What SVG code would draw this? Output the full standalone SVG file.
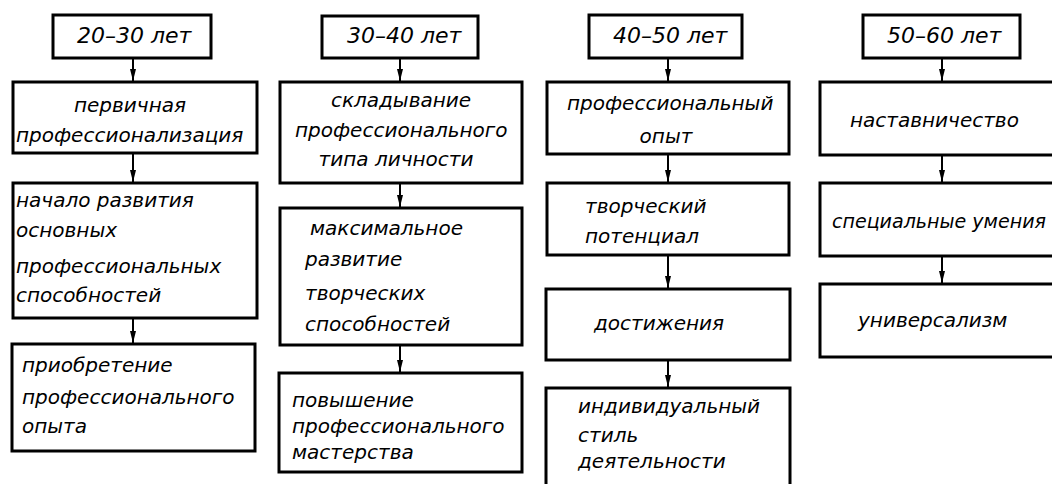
<svg xmlns="http://www.w3.org/2000/svg" width="1052" height="484" viewBox="0 0 1052 484">
<style>
.b{fill:#fff;stroke:#000;stroke-width:3}
.t{font-family:"DejaVu Sans","Liberation Sans",sans-serif;font-style:italic;font-size:20px;fill:#000}
.h{font-size:22px}
.m{text-anchor:middle}
.c{stroke:#000;stroke-width:2;fill:none}
</style>
<defs>
<marker id="ah" viewBox="0 0 12 6" refX="12" refY="3" markerWidth="12" markerHeight="6" markerUnits="userSpaceOnUse" orient="auto">
<path d="M0,0 L12,3 L0,6 z" fill="#000"/>
</marker>
</defs>
<rect width="1052" height="484" fill="#fff"/>
<g id="connectors">
<path class="c" marker-end="url(#ah)" d="M133,58 V81"/>
<path class="c" marker-end="url(#ah)" d="M133,153 V182"/>
<path class="c" marker-end="url(#ah)" d="M133,318 V343"/>
<path class="c" marker-end="url(#ah)" d="M400,58 V81"/>
<path class="c" marker-end="url(#ah)" d="M400,183 V207"/>
<path class="c" marker-end="url(#ah)" d="M400,345 V372"/>
<path class="c" marker-end="url(#ah)" d="M668,58 V81"/>
<path class="c" marker-end="url(#ah)" d="M668,154 V182"/>
<path class="c" marker-end="url(#ah)" d="M668,255 V288"/>
<path class="c" marker-end="url(#ah)" d="M668,360 V387"/>
<path class="c" marker-end="url(#ah)" d="M942,58 V81"/>
<path class="c" marker-end="url(#ah)" d="M942,155 V182"/>
<path class="c" marker-end="url(#ah)" d="M942,256 V283"/>
</g>
<g id="c1h"><rect class="b" x="53" y="15" width="158" height="43"/><text class="t h" x="77" y="43">20–30 лет</text></g>
<g id="c1n1"><rect class="b" x="13" y="82" width="244" height="71"/><text class="t m" x="130" y="112">первичная</text><text class="t" x="16" y="142">профессионализация</text></g>
<g id="c1n2"><rect class="b" x="13" y="183" width="244" height="135"/><text class="t" x="16" y="207">начало развития</text><text class="t" x="16" y="237">основных</text><text class="t" x="16" y="273">профессиональных</text><text class="t" x="16" y="302">способностей</text></g>
<g id="c1n3"><rect class="b" x="12" y="344" width="243" height="107"/><text class="t" x="22" y="372">приобретение</text><text class="t" x="22" y="404">профессионального</text><text class="t" x="22" y="433">опыта</text></g>
<g id="c2h"><rect class="b" x="322" y="16" width="156" height="42"/><text class="t h" x="347" y="43">30–40 лет</text></g>
<g id="c2n1"><rect class="b" x="280" y="82" width="242" height="101"/><text class="t m" x="401" y="107">складывание</text><text class="t" x="295" y="137">профессионального</text><text class="t m" x="396" y="166">типа личности</text></g>
<g id="c2n2"><rect class="b" x="280" y="208" width="242" height="137"/><text class="t" x="310" y="235">максимальное</text><text class="t" x="305" y="266">развитие</text><text class="t" x="305" y="300">творческих</text><text class="t" x="305" y="331">способностей</text></g>
<g id="c2n3"><rect class="b" x="279" y="373" width="243" height="99"/><text class="t" x="292" y="407">повышение</text><text class="t" x="292" y="433">профессионального</text><text class="t" x="292" y="459">мастерства</text></g>
<g id="c3h"><rect class="b" x="589" y="15" width="153" height="43"/><text class="t h" x="613" y="43">40–50 лет</text></g>
<g id="c3n1"><rect class="b" x="547" y="82" width="242" height="72"/><text class="t" x="567" y="110">профессиональный</text><text class="t m" x="666" y="143">опыт</text></g>
<g id="c3n2"><rect class="b" x="547" y="183" width="242" height="72"/><text class="t" x="585" y="213">творческий</text><text class="t" x="585" y="243">потенциал</text></g>
<g id="c3n3"><rect class="b" x="546" y="289" width="244" height="71"/><text class="t m" x="659" y="330">достижения</text></g>
<g id="c3n4"><rect class="b" x="546" y="388" width="244" height="110"/><text class="t" x="578" y="413">индивидуальный</text><text class="t" x="578" y="442">стиль</text><text class="t" x="578" y="468">деятельности</text></g>
<g id="c4h"><rect class="b" x="863" y="15" width="157" height="43"/><text class="t h" x="887" y="43">50–60 лет</text></g>
<g id="c4n1"><rect class="b" x="820" y="82" width="240" height="73"/><text class="t" x="850" y="127">наставничество</text></g>
<g id="c4n2"><rect class="b" x="820" y="183" width="240" height="73"/><text class="t" x="832" y="228" textLength="214" lengthAdjust="spacingAndGlyphs">специальные умения</text></g>
<g id="c4n3"><rect class="b" x="820" y="284" width="240" height="73"/><text class="t" x="858" y="327">универсализм</text></g>
</svg>
